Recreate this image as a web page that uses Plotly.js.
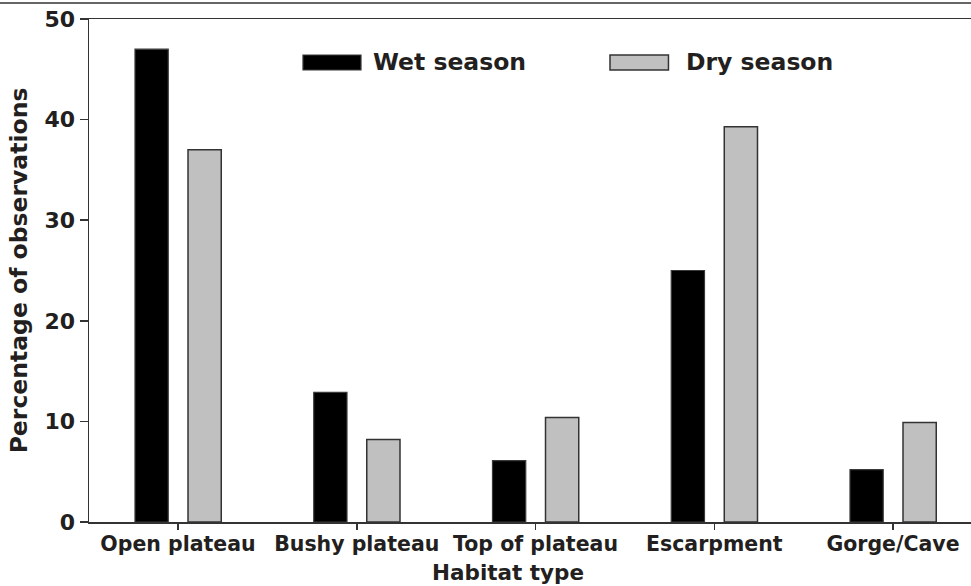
<!DOCTYPE html>
<html>
<head>
<meta charset="utf-8">
<script src="https://cdn.plot.ly/plotly-3.0.1.min.js"></script>
<style>
  html, body { margin: 0; padding: 0; background: #ffffff; }
  #chart { width: 971px; height: 586px; }
</style>
</head>
<body>
<div id="chart"></div>
<script>
// ---- Data ----
const habitats = ["Open plateau", "Bushy plateau", "Top of plateau", "Escarpment", "Gorge/Cave"];
const wetSeason = [47.0, 12.9, 6.1, 25.0, 5.2];
const drySeason = [37.0, 8.2, 10.4, 39.3, 9.9];
const seriesNames = ["Wet season", "Dry season"];
const yTicks = [0, 10, 20, 30, 40, 50];

// ---- Styling ----
const wetColor = "#000000";
const dryColor = "#c0c0c0";
const lineColor = "#333333";
const textColor = "#231f20";
const barWidth = 0.186;

const traces = [
  {
    type: "bar",
    name: seriesNames[0],
    x: habitats,
    y: wetSeason,
    width: barWidth,
    offset: -0.2406,
    marker: { color: wetColor, line: { color: "#3a3a3a", width: 1.2 } },
    showlegend: false,
    hoverinfo: "x+y+name"
  },
  {
    type: "bar",
    name: seriesNames[1],
    x: habitats,
    y: drySeason,
    width: barWidth,
    offset: 0.056,
    marker: { color: dryColor, line: { color: lineColor, width: 1.5 } },
    showlegend: false,
    hoverinfo: "x+y+name"
  }
];

const titleFont = { family: "DejaVu Sans", size: 23.5, color: textColor, weight: 700 };
const xTickFont = { family: "DejaVu Sans", size: 20.5, color: textColor, weight: 700 };
const yTickFont = { family: "DejaVu Sans", size: 22, color: textColor, weight: 700 };

const layout = {
  width: 971,
  height: 586,
  margin: { l: 89, r: 0, t: 19, b: 64 },
  paper_bgcolor: "#ffffff",
  plot_bgcolor: "#ffffff",
  barmode: "group",
  showlegend: false,
  xaxis: {
    type: "category",
    range: [-0.4979, 4.4364],
    showgrid: false,
    zeroline: false,
    showline: true,
    linecolor: lineColor,
    linewidth: 1.5,
    mirror: true,
    ticks: "outside",
    ticklen: 6,
    tickwidth: 1.5,
    tickcolor: lineColor,
    tickfont: xTickFont,
    ticklabelstandoff: -3,
    fixedrange: true
  },
  yaxis: {
    range: [0, 50],
    tickvals: yTicks,
    showgrid: false,
    zeroline: false,
    showline: true,
    linecolor: lineColor,
    linewidth: 1.5,
    ticks: "outside",
    ticklen: 8,
    tickwidth: 1.5,
    tickcolor: lineColor,
    tickfont: yTickFont,
    title: { text: "Percentage of observations", font: titleFont, standoff: 10 },
    fixedrange: true
  },
  shapes: [
    // figure top border line
    { type: "line", xref: "paper", yref: "paper", x0: -0.11, x1: 1.0, y0: 1.0318, y1: 1.0318,
      line: { color: lineColor, width: 1.5 } },
    // legend swatches
    { type: "rect", xref: "paper", yref: "paper", x0: 0.2426, x1: 0.3084, y0: 0.8986, y1: 0.9284,
      fillcolor: wetColor, line: { color: "#3a3a3a", width: 1.2 } },
    { type: "rect", xref: "paper", yref: "paper", x0: 0.5907, x1: 0.657, y0: 0.8986, y1: 0.9284,
      fillcolor: dryColor, line: { color: lineColor, width: 1.5 } }
  ],
  annotations: [
    { xref: "paper", yref: "paper", x: 0.3197, y: 0.9155, xanchor: "left", yanchor: "middle",
      text: seriesNames[0], showarrow: false, font: titleFont },
    { xref: "paper", yref: "paper", x: 0.6746, y: 0.9155, xanchor: "left", yanchor: "middle",
      text: seriesNames[1], showarrow: false, font: titleFont },
    // x axis title
    { xref: "paper", yref: "paper", x: 0.4756, y: -0.072, xanchor: "center", yanchor: "top",
      text: "Habitat type", showarrow: false,
      font: { family: "DejaVu Sans", size: 21.5, color: textColor, weight: 700 } }
  ]
};

Plotly.newPlot("chart", traces, layout, { staticPlot: true, displayModeBar: false });
</script>
</body>
</html>
